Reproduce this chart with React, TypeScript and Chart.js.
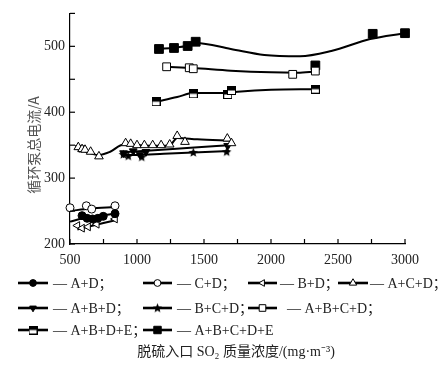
import React, { useEffect, useRef } from 'react';
import { Chart, registerables } from 'chart.js';
import { drawPoint } from 'chart.js/helpers';

Chart.register(...registerables);

// ---------- data ----------
const SERIES_NAMES = ['A+D', 'C+D', 'B+D', 'A+C+D', 'A+B+D', 'B+C+D', 'A+B+C+D', 'A+B+D+E', 'A+B+C+D+E'];

const X_MIN = 500, X_MAX = 3000, X_STEP = 250, X_LABEL_STEP = 500;
const Y_MIN = 200, Y_MAX = 550, Y_STEP = 50, Y_LABEL_STEP = 100;

const X_TITLE = '脱硫入口 SO₂ 质量浓度/(mg·m⁻³)';
const Y_TITLE = '循环泵总电流/A';

// measured points [SO2, current]
const AD_PTS = [[590, 243], [628, 239], [668, 238], [708, 239], [748, 242], [836, 246]];
const AD_FIT = [[500, 234], [600, 239], [700, 242], [836, 246]];

const CD_PTS = [[500, 255], [622, 258], [662, 253], [836, 258]];
const CD_FIT = [[500, 250], [650, 254], [836, 256]];

const BD_PTS = [[555, 228], [590, 224], [635, 226], [700, 230], [836, 238]];
const BD_FIT = [[555, 222], [650, 227], [750, 232], [836, 236]];

const ACD_PTS = [[562, 347], [590, 344], [612, 343], [654, 340], [716, 333], [915, 353], [953, 352], [1000, 350], [1055, 350], [1117, 350], [1180, 350], [1244, 351], [1300, 364], [1358, 355], [1674, 360], [1705, 353]];
const ACD_FIT = [[540, 347], [620, 340], [711, 335], [800, 340], [900, 351], [1050, 349.5], [1240, 349], [1300, 361], [1450, 359], [1700, 357]];

const ABD_PTS = [[570, 346], [900, 338], [972, 341], [1022, 336], [1067, 340], [1677, 349]];
const ABD_FIT = [[880, 339], [1100, 342], [1400, 346], [1690, 350]];

const BCD_PTS = [[898, 336], [935, 333.5], [1035, 332], [1420, 339], [1669, 340]];
const BCD_FIT = [[880, 335], [1000, 335], [1200, 337], [1420, 339], [1690, 341]];

const ABCD_PTS = [[1221, 469], [1390, 467.5], [1420, 466], [2162, 457.5], [2331, 462.5]];
const ABCD_FIT = [[1221, 469], [1420, 467], [1700, 463], [2000, 460.5], [2200, 460], [2331, 462]];

const ABDE_PTS = [[1142, 416], [1420, 428], [1677, 427], [1705, 433], [2331, 435]];
const ABDE_FIT = [[1142, 416], [1300, 423], [1420, 429], [1650, 429], [1750, 431], [2000, 434], [2331, 435]];

const ABCDE_PTS = [[1164, 496], [1276, 497.5], [1378, 500.5], [1438, 507], [2331, 471], [2759, 519], [3000, 520]];
const ABCDE_FIT = [[1164, 496], [1276, 498], [1378, 501], [1440, 505], [1700, 496], [1950, 487], [2216, 485], [2450, 493], [2740, 511], [3000, 520]];

const ALL_PTS = [AD_PTS, CD_PTS, BD_PTS, ACD_PTS, ABD_PTS, BCD_PTS, ABCD_PTS, ABDE_PTS, ABCDE_PTS];
const ALL_FIT = [AD_FIT, CD_FIT, BD_FIT, ACD_FIT, ABD_FIT, BCD_FIT, ABCD_FIT, ABDE_FIT, ABCDE_FIT];

// ---------- styles ----------
const SERIF = '"Liberation Serif", "Noto Sans CJK SC", serif';
const TEXT_COLOR = '#222';

function makeStar(): HTMLCanvasElement {
  const c = document.createElement('canvas');
  c.width = 11; c.height = 11;
  const g = c.getContext('2d')!;
  g.fillStyle = '#000';
  g.beginPath();
  for (let i = 0; i < 10; i++) {
    const r = i % 2 === 0 ? 5 : 2.2;
    const a = -Math.PI / 2 + (i * Math.PI) / 5;
    const px = 5.5 + r * Math.cos(a);
    const py = 5.8 + r * Math.sin(a);
    if (i === 0) g.moveTo(px, py); else g.lineTo(px, py);
  }
  g.closePath();
  g.fill();
  return c;
}

function makeHalfSquare(): HTMLCanvasElement {
  const c = document.createElement('canvas');
  c.width = 9; c.height = 9;
  const g = c.getContext('2d')!;
  g.fillStyle = '#fff';
  g.fillRect(0.5, 0.5, 8, 8);
  g.fillStyle = '#000';
  g.fillRect(0.5, 0.5, 8, 4);
  g.strokeStyle = '#000';
  g.lineWidth = 1;
  g.strokeRect(0.5, 0.5, 8, 8);
  return c;
}

type MarkerStyle = { pointStyle: any; radius: number; rotation: number; fill: string };

function markerStyles(): MarkerStyle[] {
  const star = makeStar();
  const half = makeHalfSquare();
  return [
    { pointStyle: 'circle', radius: 4, rotation: 0, fill: '#000' },
    { pointStyle: 'circle', radius: 4, rotation: 0, fill: '#fff' },
    { pointStyle: 'triangle', radius: 4.5, rotation: -90, fill: '#fff' },
    { pointStyle: 'triangle', radius: 5, rotation: 0, fill: '#fff' },
    { pointStyle: 'triangle', radius: 4.5, rotation: 180, fill: '#000' },
    { pointStyle: star, radius: 5, rotation: 0, fill: '#000' },
    { pointStyle: 'rect', radius: 5.5, rotation: 0, fill: '#fff' },
    { pointStyle: half, radius: 5, rotation: 0, fill: '#000' },
    { pointStyle: 'rect', radius: 6.2, rotation: 0, fill: '#000' },
  ];
}

// legend layout: [lineStartX, lineEndX, textX, y]
const LEGEND_LAYOUT = [
  [18, 48, 53, 283], [143, 172, 177, 283], [248, 277, 280, 283], [338, 368, 370, 283],
  [18, 48, 53, 308], [143, 172, 177, 308], [248, 277, 287, 308],
  [18, 48, 53, 330], [143, 172, 177, 330],
];

export default function App() {
  const ref = useRef<HTMLCanvasElement>(null);

  useEffect(() => {
    const styles = markerStyles();
    const datasets: any[] = [];
    ALL_FIT.forEach((fit, i) => {
      datasets.push({
        label: SERIES_NAMES[i] + ' fit',
        data: fit.map(([x, y]) => ({ x, y })),
        showLine: true,
        borderColor: '#000',
        borderWidth: 2,
        pointRadius: 0,
        cubicInterpolationMode: 'monotone',
        fill: false,
        order: 2,
        clip: false,
      });
    });
    ALL_PTS.forEach((pts, i) => {
      const s = styles[i];
      datasets.push({
        label: SERIES_NAMES[i],
        data: pts.map(([x, y]) => ({ x, y })),
        showLine: false,
        pointStyle: s.pointStyle,
        pointRadius: s.radius,
        pointRotation: s.rotation,
        pointBackgroundColor: s.fill,
        pointBorderColor: '#000',
        pointBorderWidth: 1,
        order: 1,
        clip: false,
      });
    });

    const decor = {
      id: 'decor',
      afterDraw(chart: any) {
        const ctx = chart.ctx as CanvasRenderingContext2D;
        const xs = chart.scales.x, ys = chart.scales.y;
        const area = chart.chartArea;
        ctx.save();
        // inward ticks
        ctx.strokeStyle = '#000';
        ctx.lineWidth = 1.2;
        xs.ticks.forEach((t: any) => {
          const px = xs.getPixelForValue(t.value);
          ctx.beginPath();
          ctx.moveTo(px, area.bottom);
          ctx.lineTo(px, area.bottom - 5);
          ctx.stroke();
        });
        ys.ticks.forEach((t: any) => {
          const py = ys.getPixelForValue(t.value);
          ctx.beginPath();
          ctx.moveTo(area.left, py);
          ctx.lineTo(area.left + 5, py);
          ctx.stroke();
        });
        // legend
        ctx.font = '14px ' + SERIF;
        ctx.textBaseline = 'middle';
        ctx.textAlign = 'left';
        SERIES_NAMES.forEach((name, i) => {
          const [x1, x2, tx, y] = LEGEND_LAYOUT[i];
          ctx.strokeStyle = '#000';
          ctx.lineWidth = 2.6;
          ctx.beginPath();
          ctx.moveTo(x1, y);
          ctx.lineTo(x2, y);
          ctx.stroke();
          const s = styles[i];
          ctx.fillStyle = s.fill;
          ctx.strokeStyle = '#000';
          ctx.lineWidth = 1;
          drawPoint(ctx, { pointStyle: s.pointStyle, radius: s.radius * 0.85, rotation: s.rotation, borderWidth: 1 } as any, (x1 + x2) / 2, y);
          ctx.fillStyle = TEXT_COLOR;
          const suffix = i < SERIES_NAMES.length - 1 ? '；' : '';
          ctx.fillText('— ' + name + suffix, tx, y + 1);
        });
        // x title
        ctx.textAlign = 'center';
        ctx.fillStyle = TEXT_COLOR;
        ctx.fillText(X_TITLE, 236, 352);
        // y title
        ctx.save();
        ctx.translate(34, 145);
        ctx.rotate(-Math.PI / 2);
        ctx.font = '14px "Noto Sans CJK SC", sans-serif';
        ctx.fillStyle = '#555';
        ctx.fillText(Y_TITLE, 0, 0);
        ctx.restore();
        ctx.restore();
      },
    };

    const chart = new Chart(ref.current!, {
      type: 'scatter',
      data: { datasets },
      options: {
        responsive: false,
        animation: false,
        layout: { padding: { left: 0, right: 43, top: 11, bottom: 0 } },
        plugins: { legend: { display: false }, tooltip: { enabled: false } },
        scales: {
          x: {
            type: 'linear',
            min: X_MIN,
            max: X_MAX,
            grid: { drawOnChartArea: false, drawTicks: false },
            border: { display: true, color: '#000', width: 1.2 },
            ticks: {
              stepSize: X_STEP,
              autoSkip: false,
              maxRotation: 0,
              padding: 8,
              color: TEXT_COLOR,
              font: { family: SERIF, size: 14 },
              callback: (v: any) => (Number(v) % X_LABEL_STEP === 0 ? String(v) : ''),
            },
            afterFit: (s: any) => { s.height = 124; },
          },
          y: {
            type: 'linear',
            min: Y_MIN,
            max: Y_MAX,
            grid: { drawOnChartArea: false, drawTicks: false },
            border: { display: true, color: '#000', width: 1.2 },
            ticks: {
              stepSize: Y_STEP,
              autoSkip: false,
              padding: 5,
              color: TEXT_COLOR,
              font: { family: SERIF, size: 14 },
              callback: (v: any) => (Number(v) % Y_LABEL_STEP === 0 ? String(v) : ''),
            },
            afterFit: (s: any) => { s.width = 70; },
          },
        },
      },
      plugins: [decor],
    });
    return () => chart.destroy();
  }, []);

  return (
    <div style={{ position: 'fixed', left: 0, top: 0, width: 448, height: 368, background: '#fff' }}>
      <canvas ref={ref} width={448} height={368} style={{ display: 'block' }} />
    </div>
  );
}
